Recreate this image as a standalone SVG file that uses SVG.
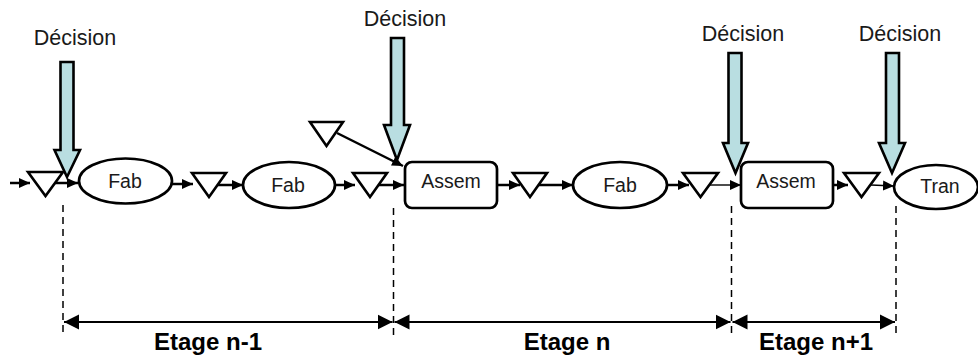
<svg xmlns="http://www.w3.org/2000/svg" width="978" height="356" viewBox="0 0 978 356">
<defs>
<style>
.tri{fill:#fff;stroke:#000;stroke-width:2.6;stroke-linejoin:miter}
.node{fill:#fff;stroke:#000;stroke-width:2.7}
.lbl{font-family:"Liberation Sans",Arial,sans-serif;font-size:19.5px;fill:#1a1a1a;text-anchor:middle}
.dec{font-family:"Liberation Sans",Arial,sans-serif;font-size:21.5px;fill:#1a1a1a;text-anchor:middle}
.stage{font-family:"Liberation Sans",Arial,sans-serif;font-size:24px;font-weight:bold;fill:#000;text-anchor:middle}
.darrow{fill:#b9dee1;stroke:#000;stroke-width:2.6;stroke-linejoin:miter}
.conn{fill:none;stroke:#000;stroke-width:2.5}
.thin{fill:none;stroke:#000;stroke-width:1.4}
.dash{fill:none;stroke:#000;stroke-width:1.5;stroke-dasharray:7,5}
.dim{fill:none;stroke:#000;stroke-width:2.2}
</style>
<marker id="ah" markerUnits="userSpaceOnUse" markerWidth="12" markerHeight="11" refX="11" refY="5.5" orient="auto">
<path d="M0,0.5 L11,5.5 L0,10.5 z" fill="#000"/>
</marker>
<marker id="dh" markerUnits="userSpaceOnUse" markerWidth="16" markerHeight="16" refX="15" refY="8" orient="auto-start-reverse">
<path d="M0,0.5 L15,8 L0,15.5 z" fill="#000"/>
</marker>
</defs>

<g id="connectors">
<line class="conn" x1="10" y1="183" x2="30" y2="183" marker-end="url(#ah)"/>
<line class="conn" x1="55" y1="183" x2="78" y2="183" marker-end="url(#ah)"/>
<line class="conn" x1="172" y1="184" x2="193" y2="184" marker-end="url(#ah)"/>
<line class="conn" x1="218" y1="185" x2="243" y2="185" marker-end="url(#ah)"/>
<line class="conn" x1="335" y1="185" x2="355" y2="185" marker-end="url(#ah)"/>
<line class="conn" x1="379" y1="185" x2="404" y2="185" marker-end="url(#ah)"/>
<line class="conn" x1="337" y1="133" x2="403" y2="166" marker-end="url(#ah)"/>
<line class="conn" x1="497" y1="185" x2="520" y2="185" marker-end="url(#ah)"/>
<line class="conn" x1="539" y1="185" x2="573" y2="185" marker-end="url(#ah)"/>
<line class="conn" x1="667" y1="185" x2="689" y2="185" marker-end="url(#ah)"/>
<line class="thin" x1="710" y1="185" x2="741" y2="185" marker-end="url(#ah)"/>
<line class="conn" x1="827" y1="185" x2="848" y2="185" marker-end="url(#ah)"/>
<line class="thin" x1="871" y1="185" x2="894" y2="186" marker-end="url(#ah)"/>
</g>

<g id="guides">
<line class="dash" x1="63" y1="205" x2="63" y2="336"/>
<line class="dash" x1="393.5" y1="208" x2="393.5" y2="336"/>
<line class="dash" x1="731.5" y1="206" x2="731.5" y2="336"/>
<line class="dash" x1="896" y1="206" x2="896" y2="336"/>
</g>

<g id="stages">
<line class="dim" x1="64" y1="322" x2="392.5" y2="322" marker-start="url(#dh)" marker-end="url(#dh)"/>
<line class="dim" x1="394.5" y1="322" x2="730.5" y2="322" marker-start="url(#dh)" marker-end="url(#dh)"/>
<line class="dim" x1="732.5" y1="322" x2="895" y2="322" marker-start="url(#dh)" marker-end="url(#dh)"/>
<text class="stage" x="208" y="350">Etage n-1</text>
<text class="stage" x="567" y="350">Etage n</text>
<text class="stage" x="816" y="350">Etage n+1</text>
</g>

<g id="stock-1"><polygon class="tri" points="28,172 63,172 45.5,196"/></g>
<g id="stock-2"><polygon class="tri" points="192,173 226,173 209,197"/></g>
<g id="stock-3"><polygon class="tri" points="353,173 387,173 370,197"/></g>
<g id="stock-4"><polygon class="tri" points="513,173 547,173 530,197"/></g>
<g id="stock-5"><polygon class="tri" points="683,173 718,173 700.5,197"/></g>
<g id="stock-6"><polygon class="tri" points="844,173 879,173 861.5,197"/></g>
<g id="stock-extra"><polygon class="tri" points="310,122 343,122 326.5,146"/></g>

<g id="fab-1"><ellipse class="node" cx="125.5" cy="181" rx="46.5" ry="22.5"/><text class="lbl" x="125" y="188">Fab</text></g>
<g id="fab-2"><ellipse class="node" cx="289" cy="185" rx="46" ry="23"/><text class="lbl" x="288" y="192">Fab</text></g>
<g id="assem-1"><rect class="node" x="405" y="162" width="92" height="46" rx="7"/><text class="lbl" x="451" y="188">Assem</text></g>
<g id="fab-3"><ellipse class="node" cx="620" cy="185" rx="47" ry="23"/><text class="lbl" x="620" y="192">Fab</text></g>
<g id="assem-2"><rect class="node" x="741" y="162" width="92" height="46" rx="7"/><text class="lbl" x="786" y="188">Assem</text></g>
<g id="tran"><ellipse class="node" cx="936" cy="187" rx="42" ry="22"/><text class="lbl" x="940" y="193">Tran</text></g>

<g id="decision-1">
<text class="dec" x="75" y="45">Décision</text>
<polygon class="darrow" points="60.5,62 73.5,62 73.5,150 80,150 67,177 54.5,150 60.5,150"/>
</g>
<g id="decision-2">
<text class="dec" x="405" y="26">Décision</text>
<polygon class="darrow" points="391,38 404,38 404,125 410,125 397,160 384,125 391,125"/>
</g>
<g id="decision-3">
<text class="dec" x="743" y="41">Décision</text>
<polygon class="darrow" points="728.5,53 741.5,53 741.5,143 748,143 735.5,173 723,143 728.5,143"/>
</g>
<g id="decision-4">
<text class="dec" x="900" y="41">Décision</text>
<polygon class="darrow" points="886,53 899,53 899,143 905,143 892,173 879,143 886,143"/>
</g>
</svg>
